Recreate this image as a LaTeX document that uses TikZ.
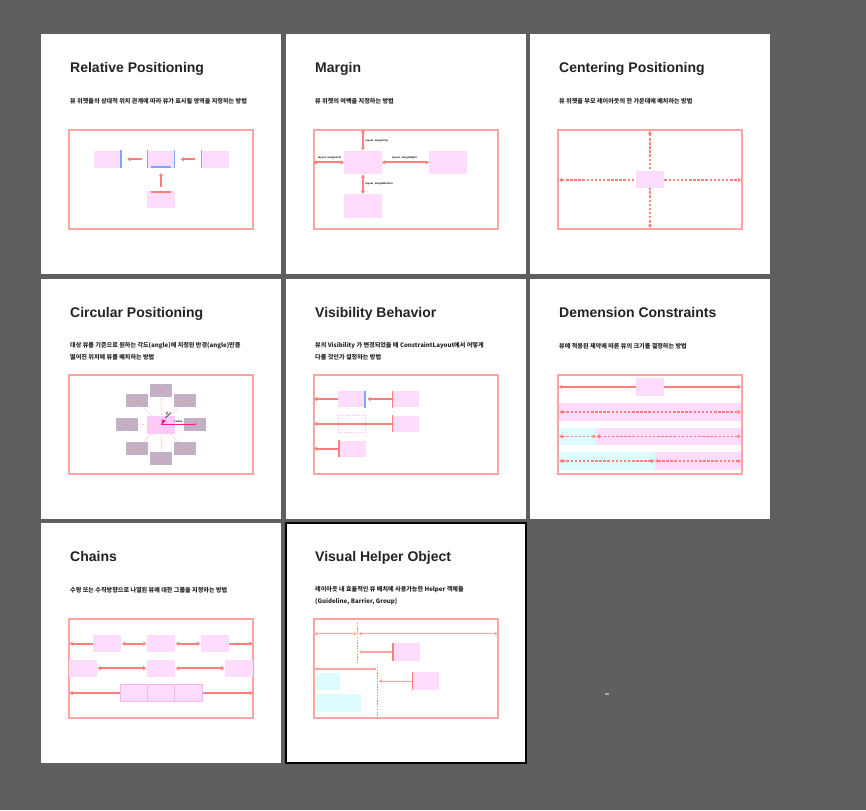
\documentclass[tikz,border=0pt]{standalone}
\usepackage{fontspec}
\setmainfont{Liberation Sans}
\newfontfamily\kr{Noto Sans CJK KR}
\usetikzlibrary{arrows.meta}
\definecolor{bgc}{HTML}{5F5F5F}
\definecolor{framec}{HTML}{FFA3A3}
\definecolor{arrc}{HTML}{FF7F7F}
\definecolor{lightarr}{HTML}{FFA5A5}
\definecolor{pinkc}{HTML}{FDDCFD}
\definecolor{cyanc}{HTML}{DDFCFD}
\definecolor{bluec}{HTML}{7FA7FF}
\definecolor{mauvec}{HTML}{C4B0C4}
\definecolor{magc}{HTML}{FF1A8C}
\definecolor{titlec}{HTML}{232323}
\definecolor{faintc}{HTML}{FFCFCF}
\definecolor{chainb}{HTML}{F5B5F5}
\tikzset{
  x=1pt, y=-1pt,
  card/.style={fill=white, draw=none, inner sep=0, minimum width=240, minimum height=240},
  ttl/.style={anchor=base west, inner sep=0, font=\fontsize{14}{16}\selectfont\bfseries, text=titlec},
  dsc/.style={anchor=west, inner sep=0, font=\kr\bfseries\fontsize{6.1}{12.5}\selectfont, text=black!85, align=left},
  tiny/.style={inner sep=0, font=\fontsize{2.6}{3}\selectfont\bfseries, text=black},
  fr/.style={draw=framec, line width=1.1pt, inner sep=0, minimum width=184, minimum height=99},
  pb/.style={fill=pinkc, draw=none, inner sep=0, minimum width=28, minimum height=17},
  cb/.style={fill=cyanc, draw=none, inner sep=0},
  sat/.style={fill=mauvec, draw=none, inner sep=0, minimum width=22, minimum height=13.5},
  rbar/.style={draw=arrc, line width=1.5pt},
  bbar/.style={draw=bluec, line width=1.5pt},
  arw/.style={draw=arrc, line width=1.8pt, -{Triangle[length=3.2pt,width=4pt]}},
  darw/.style={draw=arrc, line width=1.8pt, {Triangle[length=3.2pt,width=4pt]}-{Triangle[length=3.2pt,width=4pt]}},
  dsh/.style={dash pattern=on 2.5pt off 1.6pt},
  guide/.style={draw=bluec, line width=1.3pt, dash pattern=on 1.4pt off 1.4pt},
  larw/.style={draw=lightarr, line width=1.3pt, -{Triangle[length=2.8pt,width=3.4pt]}},
  ldarw/.style={draw=lightarr, line width=1.3pt, {Triangle[length=2.8pt,width=3.4pt]}-{Triangle[length=2.8pt,width=3.4pt]}},
}
\begin{document}
\begin{tikzpicture}
\useasboundingbox (0,0) rectangle (866,810);
\fill[bgc] (0,0) rectangle (866,810);

% ---------------- Card 1: Relative Positioning
\begin{scope}[shift={(41,34)}]
\node[card] (k1) at (120,120) {};
\node[ttl] (t1) at (29,38.5) {Relative Positioning};
\node[dsc] (d1) at (29,67) {뷰 위젯들의 상대적 위치 관계에 따라 뷰가 표시될 영역을 지정하는 방법};
\node[fr] (f1) at (120,145.5) {};
\node[pb] (a1l) at (66.5,125.2) {};
\node[pb] (a1c) at (120,125.2) {};
\node[pb] (a1r) at (174,125.2) {};
\node[pb] (a1b) at (120,166) {};
\draw[bbar] ([xshift=-0.75]a1l.north east) -- ([xshift=-0.75]a1l.south east);
\draw[rbar] ([xshift=0.75]a1c.north west) -- ([xshift=0.75]a1c.south west);
\draw[bbar] ([xshift=-0.75]a1c.north east) -- ([xshift=-0.75]a1c.south east);
\draw[bbar] ([xshift=4,yshift=0.75]a1c.south west) -- ([xshift=-4,yshift=0.75]a1c.south east);
\draw[rbar] ([xshift=0.75]a1r.north west) -- ([xshift=0.75]a1r.south west);
\draw[rbar] ([xshift=4,yshift=-0.75]a1b.north west) -- ([xshift=-4,yshift=-0.75]a1b.north east);
\draw[arw, shorten <=5, shorten >=5.5] (a1c.west) -- (a1l.east);
\draw[arw, shorten <=6, shorten >=5.5] (a1r.west) -- (a1c.east);
\draw[arw, shorten <=4.3, shorten >=5] (a1b.north) -- (a1c.south);
\end{scope}

% ---------------- Card 2: Margin
\begin{scope}[shift={(286,34)}]
\node[card] (k2) at (120,120) {};
\node[ttl] (t2) at (29,38.5) {Margin};
\node[dsc] (d2) at (29,67) {뷰 위젯의 여백을 지정하는 방법};
\node[fr] (f2) at (120,145.5) {};
\node[pb, minimum width=37.4, minimum height=23.6] (b2a) at (77,128.5) {};
\node[pb, minimum width=37.4, minimum height=23.6] (b2b) at (161.9,128.5) {};
\node[pb, minimum width=37.4, minimum height=23.6] (b2c) at (77,171.9) {};
\draw[darw, line width=2pt] (b2a.north |- f2.north) -- (b2a.north);
\draw[darw, line width=2pt] (f2.west |- b2a.west) -- (b2a.west);
\draw[darw, line width=2pt] (b2a.east) -- (b2b.west);
\draw[darw, line width=2pt] (b2a.south) -- (b2c.north);
\node[tiny, anchor=west] (l2t) at (79.5,107) {layout\_marginTop};
\node[tiny] (l2l) at (43.5,124.3) {layout\_marginLeft};
\node[tiny] (l2r) at (118.5,124.3) {layout\_marginRight};
\node[tiny, anchor=west] (l2b) at (79.5,149.7) {layout\_marginBottom};
\end{scope}

% ---------------- Card 3: Centering Positioning
\begin{scope}[shift={(530,34)}]
\node[card] (k3) at (120,120) {};
\node[ttl] (t3) at (29,38.5) {Centering Positioning};
\node[dsc] (d3) at (29,67) {뷰 위젯을 부모 레이아웃의 한 가운데에 배치하는 방법};
\node[fr] (f3) at (120,145.5) {};
\coordinate (h3) at (120,146);
\draw[darw, dsh, shorten <=1.5, shorten >=1.5] (f3.west |- h3) -- (f3.east |- h3);
\draw[darw, dsh, shorten <=1.5, shorten >=1.5] (f3.north) -- (f3.south);
\node[pb] (c3) at (120,145.5) {};
\end{scope}

% ---------------- Card 4: Circular Positioning
\begin{scope}[shift={(41,279)}]
\node[card] (k4) at (120,120) {};
\node[ttl] (t4) at (29,38.5) {Circular Positioning};
\node[dsc] (d4) at (29,72) {대상 뷰를 기준으로 원하는 각도(angle)에 지정된 반경(angle)만큼\\떨어진 위치에 뷰를 배치하는 방법};
\node[fr] (f4) at (120,145.5) {};
\node[pb, fill=pinkc!90!magenta!95!white, minimum height=18] (c4) at (120,145.5) {};
\node[sat] (s4t) at (120,111.5) {};
\node[sat] (s4b) at (120,179.5) {};
\node[sat] (s4l) at (86,145.5) {};
\node[sat] (s4r) at (154,145.5) {};
\node[sat] (s4tl) at (95.96,121.46) {};
\node[sat] (s4tr) at (144.04,121.46) {};
\node[sat] (s4bl) at (95.96,169.54) {};
\node[sat] (s4br) at (144.04,169.54) {};
\foreach \n in {t,b,l} {\draw[faintc, line width=0.6pt, dash pattern=on 1.5pt off 1pt] (c4.center) -- (s4\n);}
\foreach \n in {tl,tr,bl,br} {\draw[faintc, line width=0.6pt] (c4.center) -- (s4\n);}
\foreach \n in {t,b,l,r,tl,tr,bl,br} {\fill[arrc] (s4\n.center) circle (0.8);}
\draw[magc, line width=1.1pt] (c4.center) -- (s4r.center);
\draw[magc, fill=white, line width=0.5pt] (s4r.center) circle (1.1);
\node[tiny] (l4r) at (137.5,142.3) {radius};
\fill[magc] (120.6,146) -- (120.6,140.5) -- (125,141.4) -- cycle;
\draw[black, line width=0.5pt] (124.5,139) -- (130,133.5);
\node[tiny, rotate=45] (l4a) at (126.3,134.3) {45°};
\end{scope}

% ---------------- Card 5: Visibility Behavior
\begin{scope}[shift={(286,279)}]
\node[card] (k5) at (120,120) {};
\node[ttl] (t5) at (29,38.5) {Visibility Behavior};
\node[dsc] (d5) at (29,72) {뷰의 Visibility 가 변경되었을 때 ConstraintLayout에서 어떻게\\다룰 것인가 설정하는 방법};
\node[fr] (f5) at (120,145.5) {};
\node[pb, minimum width=27.4, minimum height=16.6] (v5a) at (66,120) {};
\node[pb, minimum width=27.4, minimum height=16.6] (v5b) at (119.4,120) {};
\node[draw=pinkc!80!magenta!70!white, line width=0.6pt, dash pattern=on 1pt off 0.8pt, inner sep=0, minimum width=27, minimum height=16.2] (v5g) at (66,144.8) {};
\node[pb, minimum width=27.4, minimum height=16.6] (v5c) at (119.4,144.8) {};
\node[pb, minimum width=27.4, minimum height=16.6] (v5d) at (66,169.8) {};
\draw[bbar] ([xshift=-0.75]v5a.north east) -- ([xshift=-0.75]v5a.south east);
\draw[rbar] ([xshift=0.75]v5b.north west) -- ([xshift=0.75]v5b.south west);
\draw[rbar] ([xshift=0.75]v5c.north west) -- ([xshift=0.75]v5c.south west);
\draw[rbar] ([xshift=0.75]v5d.north west) -- ([xshift=0.75]v5d.south west);
\draw[arw, shorten >=0.5] (v5a.west) -- (f5.west |- v5a.west);
\draw[arw, shorten >=1.5] (v5b.west) -- (v5a.east);
\draw[arw, shorten >=0.5] (v5c.west) -- (f5.west |- v5c.west);
\draw[arw, shorten >=0.5] (v5d.west) -- (f5.west |- v5d.west);
\end{scope}

% ---------------- Card 6: Demension Constraints
\begin{scope}[shift={(530,279)}]
\node[card] (k6) at (120,120) {};
\node[ttl] (t6) at (29,38.5) {Demension Constraints};
\node[dsc] (d6) at (29,67) {뷰에 적용된 제약에 따른 뷰의 크기를 결정하는 방법};
\node[pb, minimum width=27.7, minimum height=17.7] (n6a) at (119.9,107.9) {};
\node[pb, minimum width=184, minimum height=17.7] (n6b) at (120,132.9) {};
\node[cb, minimum width=38.3, minimum height=16.7] (n6c) at (47.15,157.4) {};
\node[pb, minimum width=145.7, minimum height=16.7] (n6d) at (139.15,157.4) {};
\node[cb, minimum width=96.7, minimum height=17.4] (n6e) at (76.35,182) {};
\node[pb, minimum width=87.3, minimum height=17.4] (n6f) at (168.35,182) {};
\node[fr] (f6) at (120,145.5) {};
\draw[arw, line width=1.3pt] (n6a.west) -- ([xshift=1.5]f6.west |- n6a.west);
\draw[arw, line width=1.3pt] (n6a.east) -- ([xshift=-1.5]f6.east |- n6a.east);
\draw[darw, dsh, shorten <=1.5, shorten >=1.5] (n6b.west) -- (n6b.east);
\draw[darw, dsh, shorten <=1.5, shorten >=0.5] (n6c.west) -- (n6c.east);
\draw[darw, dsh, shorten <=0.5, shorten >=1.5] (n6d.west) -- (n6d.east);
\draw[darw, dsh, shorten <=1.5, shorten >=0.5] (n6e.west) -- (n6e.east);
\draw[darw, dsh, shorten <=0.5, shorten >=1.5] (n6f.west) -- (n6f.east);
\end{scope}

% ---------------- Card 7: Chains
\begin{scope}[shift={(41,523)}]
\node[card] (k7) at (120,120) {};
\node[ttl] (t7) at (29,38.5) {Chains};
\node[dsc] (d7) at (29,67) {수평 또는 수직방향으로 나열된 뷰에 대한 그룹을 지정하는 방법};
\node[fr] (f7) at (120,145.5) {};
\node[pb, minimum height=17.3] (h7a) at (66.15,120.6) {};
\node[pb, minimum height=17.3] (h7b) at (120.15,120.6) {};
\node[pb, minimum height=17.3] (h7c) at (174,120.6) {};
\node[pb, minimum width=27.7, minimum height=16.7] (h7d) at (41.85,145.3) {};
\node[pb, minimum width=27.7, minimum height=16.7] (h7e) at (120.15,145.3) {};
\node[pb, minimum width=27.7, minimum height=16.7] (h7f) at (198.15,145.3) {};
\node[pb, draw=chainb, line width=0.6pt, minimum width=27, minimum height=17.4] (h7g) at (92.8,170) {};
\node[pb, draw=chainb, line width=0.6pt, minimum width=27, minimum height=17.4] (h7h) at (119.8,170) {};
\node[pb, draw=chainb, line width=0.6pt, minimum width=28, minimum height=17.4] (h7i) at (147.3,170) {};
\draw[arw, shorten >=1] (h7a.west) -- (f7.west |- h7a.west);
\draw[darw, shorten <=0.5, shorten >=0.5] (h7a.east) -- (h7b.west);
\draw[darw, shorten <=0.5, shorten >=0.5] (h7b.east) -- (h7c.west);
\draw[arw, shorten >=1] (h7c.east) -- (f7.east |- h7c.east);
\draw[darw, shorten <=0.7, shorten >=0.7] (h7d.east) -- (h7e.west);
\draw[darw, shorten <=0.7, shorten >=0.7] (h7e.east) -- (h7f.west);
\draw[arw, shorten >=1] (h7g.west) -- (f7.west |- h7g.west);
\draw[arw, shorten >=1] (h7i.east) -- (f7.east |- h7i.east);
\end{scope}

% ---------------- Card 8: Visual Helper Object
\begin{scope}[shift={(286,523)}]
\node[card, draw=black, line width=1.2pt] (k8) at (120,120) {};
\node[ttl] (t8) at (29,38.5) {Visual Helper Object};
\node[dsc] (d8) at (29,72.5) {레이아웃 내 효율적인 뷰 배치에 사용가능한 Helper 객체들\\(Guideline, Barrier, Group)};
\node[fr] (f8) at (120,145.5) {};
\coordinate (g8t) at (71.7,99.7);
\coordinate (g8b) at (71.7,141);
\coordinate (g8m) at (71.7,110.7);
\coordinate (b8t) at (91.7,143.7);
\coordinate (b8b) at (91.7,195);
\coordinate (b8m) at (91.7,146);
\node[cb, minimum width=24.3, minimum height=17] (n8c) at (42.15,158.2) {};
\node[cb, minimum width=45, minimum height=17.4] (n8d) at (52.5,180) {};
\node[pb, minimum width=27.7, minimum height=17.4] (n8a) at (120.15,129) {};
\node[pb, minimum width=27.6, minimum height=17.7] (n8b) at (139.5,158.15) {};
\draw[rbar] ([xshift=0.75]n8a.north west) -- ([xshift=0.75]n8a.south west);
\draw[rbar] ([xshift=0.75]n8b.north west) -- ([xshift=0.75]n8b.south west);
\draw[ldarw, shorten <=1, shorten >=1] (f8.west |- g8m) -- (g8m);
\draw[ldarw, shorten <=1, shorten >=1] (g8m) -- (f8.east |- g8m);
\draw[larw, shorten >=1.3] (n8a.west) -- (g8t |- n8a.west);
\draw[ldarw, shorten <=1, shorten >=1] (f8.west |- b8m) -- (b8m);
\draw[larw, shorten >=1.3] (n8b.west) -- (b8t |- n8b.west);
\draw[guide] (g8t) -- (g8b);
\draw[guide] (b8t) -- (b8b);
\end{scope}

% small cursor mark
\fill[gray!70] (605,692.7) rectangle (609,695.3);
\end{tikzpicture}
\end{document}
